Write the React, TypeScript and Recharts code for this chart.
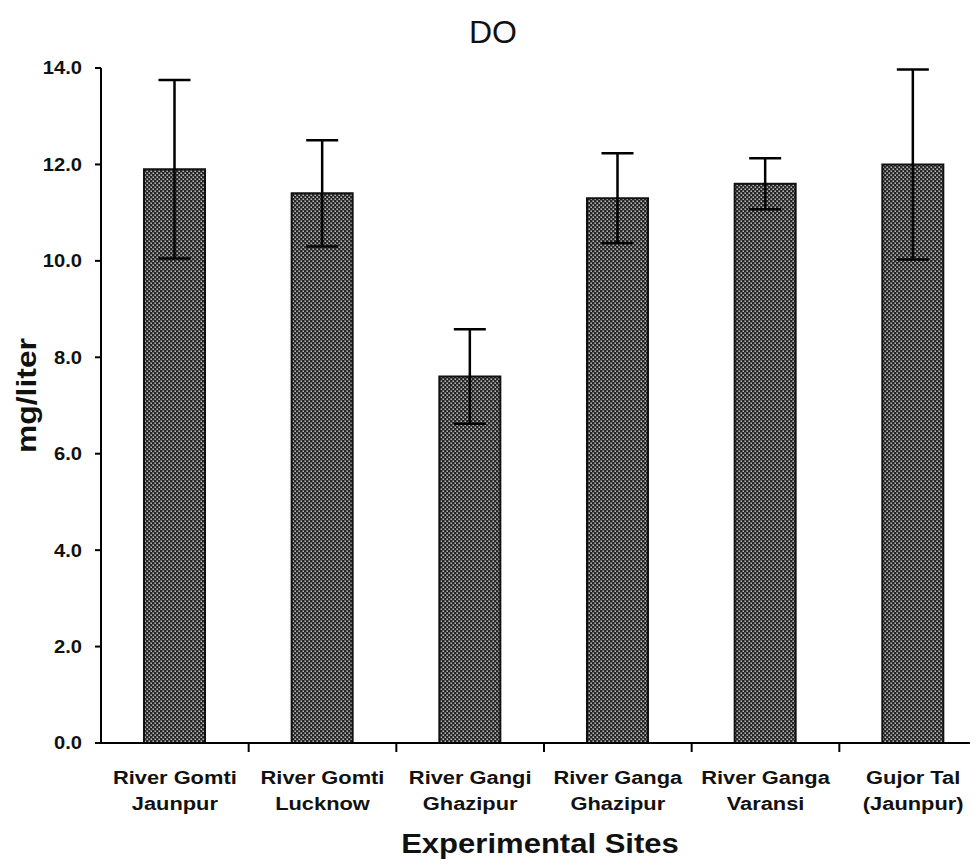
import { BarChart, Bar, XAxis, YAxis, ErrorBar, Label } from 'recharts'

const sites = [
  ['River Gomti', 'Jaunpur'],
  ['River Gomti', 'Lucknow'],
  ['River Gangi', 'Ghazipur'],
  ['River Ganga', 'Ghazipur'],
  ['River Ganga', 'Varansi'],
  ['Gujor Tal', '(Jaunpur)'],
]
const doMean = [11.9, 11.4, 7.6, 11.3, 11.6, 12.0]
const doSd = [1.85, 1.1, 0.98, 0.93, 0.53, 1.97]
const yTicks = [0, 2, 4, 6, 8, 10, 12, 14]

const data = sites.map((s, i) => ({ site: s.join('|'), value: doMean[i], sd: doSd[i] }))

const FONT = '"Liberation Sans", Arial, sans-serif'

function SiteTick(props: any) {
  const { x, y, payload, index } = props
  const [l1, l2] = String(payload.value).split('|')
  const off = payload.offset ?? 0
  return (
    <g>
      {index > 0 && (
        <line x1={x - off} x2={x - off} y1={y - 9} y2={y} stroke="#000" strokeWidth={2} />
      )}
      <g transform={`translate(${x},${y}) scale(1.15,1)`}>
        <text textAnchor="middle" fontFamily={FONT} fontWeight="bold" fontSize={19} fill="#111">
          <tspan x={0} y={32}>{l1}</tspan>
          <tspan x={0} y={58}>{l2}</tspan>
        </text>
      </g>
    </g>
  )
}

function ValueTick(props: any) {
  const { x, y, payload } = props
  return (
    <g transform={`translate(${x},${y}) scale(1.12,1)`}>
      <text textAnchor="end" dy="0.36em" fontFamily={FONT} fontWeight="bold" fontSize={18} fill="#111">
        {Number(payload.value).toFixed(1)}
      </text>
    </g>
  )
}

export default function App() {
  return (
    <div style={{ position: 'relative', width: 978, height: 868, overflow: 'hidden', margin: -8, background: '#fff' }}>
      <svg width={0} height={0} style={{ position: 'absolute' }}>
        <defs>
          <pattern id="dots" width={4} height={4} patternUnits="userSpaceOnUse">
            <rect width={4} height={4} fill="#262626" />
            <rect x={0.5} y={0.5} width={1.4} height={1.4} fill="#d8d8d8" />
            <rect x={2.5} y={2.5} width={1.4} height={1.4} fill="#d8d8d8" />
          </pattern>
        </defs>
      </svg>
      <div
        style={{
          position: 'absolute',
          top: 16,
          left: 0,
          width: 986,
          textAlign: 'center',
          fontFamily: FONT,
          fontSize: 32,
          lineHeight: '32px',
          color: '#111',
        }}
      >
        DO
      </div>
      <BarChart width={990} height={868} data={data} margin={{ top: 68, right: 3, bottom: 0, left: 0 }}>
        <XAxis
          dataKey="site"
          height={125}
          interval={0}
          axisLine={{ stroke: '#000', strokeWidth: 2 }}
          tickLine={false}
          tickSize={9}
          tickMargin={0}
          tick={<SiteTick />}
        >
          <Label
            content={(p: any) => {
              const vb = p.viewBox
              return (
                <g transform={`translate(${vb.x + vb.width / 2 - 4},${vb.y + 110}) scale(1.15,1)`}>
                  <text textAnchor="middle" fontFamily={FONT} fontWeight="bold" fontSize={27} fill="#111">
                    Experimental Sites
                  </text>
                </g>
              )
            }}
          />
        </XAxis>
        <YAxis
          width={101}
          domain={[0, 14]}
          ticks={yTicks}
          interval={0}
          axisLine={{ stroke: '#000', strokeWidth: 2 }}
          tickLine={{ stroke: '#000', strokeWidth: 2 }}
          tickSize={6}
          tickMargin={13}
          tick={<ValueTick />}
        >
          <Label
            content={(p: any) => {
              const vb = p.viewBox
              return (
                <g transform={`translate(${vb.x + 36},${vb.y + vb.height / 2 - 10}) rotate(-90) scale(1.18,1)`}>
                  <text textAnchor="middle" fontFamily={FONT} fontWeight="bold" fontSize={27} fill="#111">
                    mg/liter
                  </text>
                </g>
              )
            }}
          />
        </YAxis>
        <Bar dataKey="value" fill="url(#dots)" stroke="#111" strokeWidth={2} barSize={61} isAnimationActive={false}>
          <ErrorBar dataKey="sd" width={16} strokeWidth={2.5} stroke="#000" direction="y" />
        </Bar>
      </BarChart>
    </div>
  )
}
